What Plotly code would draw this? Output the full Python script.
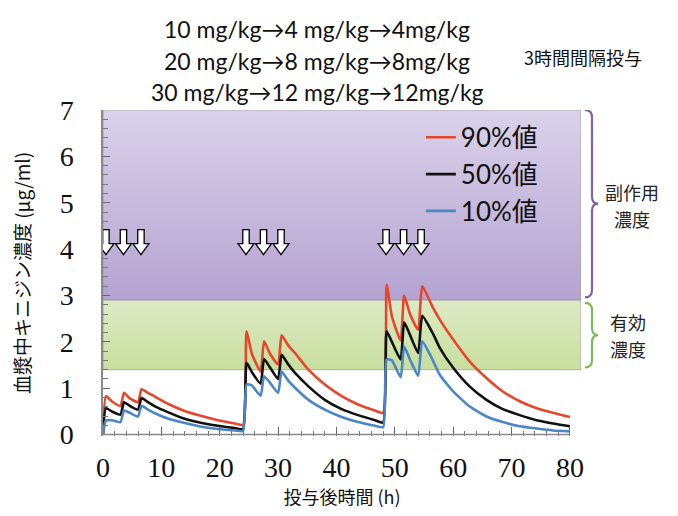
import plotly.graph_objects as go

# ---- data ----
time_h = [0, 0.5, 1.5, 3.0, 3.6, 4.6, 6.0, 6.6, 7.7, 8.9, 11.2, 14.0, 16.9, 19.7, 22.6, 24.0,
          24.6, 25.5, 27.0, 27.6, 28.6, 30.0, 30.6, 31.7, 32.9, 35.2, 38.0, 40.9, 43.7, 46.6, 48.0,
          48.6, 49.5, 51.0, 51.6, 52.6, 54.0, 54.7, 56.6, 57.7, 60.0, 62.8, 65.7, 68.5, 71.4, 74.3, 77.1, 80.0]

p90 = [0, 0.83, 0.72, 0.62, 0.90, 0.78, 0.70, 0.98, 0.90, 0.82, 0.66, 0.51, 0.40, 0.31, 0.24, 0.21,
       2.23, 1.75, 1.36, 2.01, 1.75, 1.51, 2.14, 1.93, 1.76, 1.40, 1.08, 0.83, 0.65, 0.52, 0.47,
       3.23, 2.55, 2.03, 3.00, 2.60, 2.26, 3.20, 2.72, 2.48, 2.05, 1.58, 1.22, 0.93, 0.72, 0.57, 0.47, 0.38]

p50 = [0, 0.57, 0.50, 0.43, 0.70, 0.62, 0.54, 0.79, 0.70, 0.61, 0.48, 0.34, 0.25, 0.19, 0.14, 0.12,
       1.55, 1.35, 1.10, 1.63, 1.45, 1.20, 1.72, 1.52, 1.33, 1.04, 0.75, 0.55, 0.42, 0.31, 0.26,
       2.23, 2.00, 1.62, 2.42, 2.15, 1.76, 2.56, 2.16, 1.87, 1.44, 1.04, 0.75, 0.55, 0.42, 0.31, 0.24, 0.18]

p10 = [0, 0.30, 0.31, 0.27, 0.52, 0.47, 0.39, 0.62, 0.54, 0.46, 0.34, 0.25, 0.17, 0.12, 0.09, 0.08,
       1.08, 1.06, 0.84, 1.26, 1.12, 0.90, 1.36, 1.17, 1.01, 0.75, 0.54, 0.38, 0.27, 0.19, 0.16,
       1.62, 1.60, 1.24, 1.90, 1.62, 1.27, 2.01, 1.58, 1.29, 0.93, 0.61, 0.39, 0.27, 0.18, 0.13, 0.09, 0.07]

series_names = ["90%値", "50%値", "10%値"]
dose_times = [0, 3, 6, 24, 27, 30, 48, 51, 54]
effective_band = [1.4, 2.9]      # 有効濃度
side_effect_band = [2.9, 7.0]    # 副作用濃度
dose_lines = ["10 mg/kg→4 mg/kg→4mg/kg",
              "20 mg/kg→8 mg/kg→8mg/kg",
              "30 mg/kg→12 mg/kg→12mg/kg"]
side_label = ["副作用", "濃度"]
eff_label = ["有効", "濃度"]
x_ticks = [0, 10, 20, 30, 40, 50, 60, 70, 80]
y_ticks = [0, 1, 2, 3, 4, 5, 6, 7]

# ---- styling ----
X_MAX = 81.9
colors = ["#e8462b", "#111111", "#4a86c8"]
SANS = "Lato, Noto Sans CJK JP, sans-serif"
CJK = "Noto Sans CJK JP"
SERIF = "Liberation Serif, DejaVu Serif, Times New Roman, serif"

fig = go.Figure()

# background bands (gradient fills)
for band, cs in [(side_effect_band, [[0, "#b4a3d1"], [1, "#dad2ea"]]),
                 (effective_band, [[0, "#c8df9e"], [1, "#ddeac6"]])]:
    lo, hi = band
    fig.add_trace(go.Scatter(
        x=[0, X_MAX, X_MAX, 0, 0], y=[lo, lo, hi, hi, lo],
        mode="lines", fill="toself",
        fillgradient=dict(type="vertical", colorscale=cs),
        line=dict(color="rgba(150,150,150,0.7)", width=1),
        hoverinfo="skip", showlegend=False))

for name, vals, col in zip(series_names, [p90, p50, p10], colors):
    fig.add_trace(go.Scatter(x=time_h, y=vals, mode="lines", name=name,
                             line=dict(color=col, width=2.6, shape="spline", smoothing=0.5)))

shapes = []
# bottom axis line (0 to 80)
shapes.append(dict(type="line", xref="x", yref="y", x0=x_ticks[0], x1=x_ticks[-1], y0=0, y1=0,
                   line=dict(color="#8a8a8a", width=1.5), layer="above"))

# dose arrows
arrow_path = "M 0,0 L -8,11 L -3.2,11 L -3.2,25 L 3.2,25 L 3.2,11 L 8,11 Z"
for d in dose_times:
    shapes.append(dict(type="path", xref="x", yref="y", xsizemode="pixel", ysizemode="pixel",
                       xanchor=d + 0.5, yanchor=3.88, path=arrow_path,
                       fillcolor="white", line=dict(color="black", width=1.3), layer="above"))

# braces
def brace(lo, hi, color):
    c = 0.16
    mid = (lo + hi) / 2
    p = (f"M 4,{hi} Q 11,{hi} 11,{hi - c} L 11,{mid + c} Q 11,{mid} 17,{mid} "
         f"Q 11,{mid} 11,{mid - c} L 11,{lo + c} Q 11,{lo} 4,{lo}")
    return dict(type="path", xref="paper", yref="y", xsizemode="pixel", xanchor=1,
                path=p, line=dict(color=color, width=2.2))

shapes.append(brace(side_effect_band[0] + 0.06, side_effect_band[1], "#7e62a8"))
shapes.append(brace(effective_band[0] + 0.05, effective_band[1] - 0.06, "#7cba58"))

annotations = []
for i, txt in enumerate(dose_lines):
    annotations.append(dict(text=txt, xref="paper", yref="paper", x=0.448, y=1.0,
                            yanchor="middle", yshift=81 - 31.5 * i, showarrow=False,
                            font=dict(family=SANS, size=23, color="#111")))
annotations.append(dict(text="3時間間隔投与", xref="paper", yref="paper", x=1.0, y=1.0,
                        xanchor="center", xshift=2, yanchor="middle", yshift=53, showarrow=False,
                        font=dict(family=CJK, size=18, color="#111")))
for lbl, band, xs in [(side_label, side_effect_band, 51), (eff_label, effective_band, 47)]:
    mid = (band[0] + band[1]) / 2
    for j, t in enumerate(lbl):
        annotations.append(dict(text=t, xref="paper", yref="y", x=1.0, xshift=xs,
                                y=mid, yshift=13 - 27 * j, xanchor="center", yanchor="middle",
                                showarrow=False,
                                font=dict(family=CJK, size=18, color="#222")))

fig.update_layout(
    width=678, height=516,
    margin=dict(l=95, r=105, t=102, b=88),
    paper_bgcolor="white", plot_bgcolor="white",
    font=dict(family=SERIF),
    shapes=shapes, annotations=annotations,
    showlegend=True,
    legend=dict(x=0.665, y=0.988, xanchor="left", yanchor="top",
                bgcolor="rgba(0,0,0,0)", itemwidth=30,
                font=dict(family=SANS, size=26, color="#111")),
    xaxis=dict(range=[0, X_MAX], tickvals=x_ticks, ticks="inside", ticklen=9, tickwidth=1.2,
               tickcolor="#666", showline=False, showgrid=False, zeroline=False, automargin=False,
               minor=dict(dtick=2, tick0=0, ticks="inside", ticklen=5, tickcolor="#777"),
               tickfont=dict(family=SERIF, size=28, color="#111"), ticklabelstandoff=12,
               title=dict(text="投与後時間 (h)", standoff=6,
                          font=dict(family=CJK, size=18, color="#111"))),
    yaxis=dict(range=[-0.03, 7.0], tickvals=y_ticks, ticks="inside", ticklen=7, tickwidth=1.2,
               tickcolor="#666", showline=True, linecolor="#8a8a8a", linewidth=1.5,
               showgrid=False, zeroline=False, automargin=False,
               minor=dict(dtick=0.2, tick0=0, ticks="inside", ticklen=5, tickcolor="#777"),
               tickfont=dict(family=SERIF, size=28, color="#111"), ticklabelstandoff=22,
               title=dict(text="血漿中キニジン濃度 (μg/ml)", standoff=30,
                          font=dict(family=CJK, size=19, color="#111"))),
)

fig.write_html("out.html")
